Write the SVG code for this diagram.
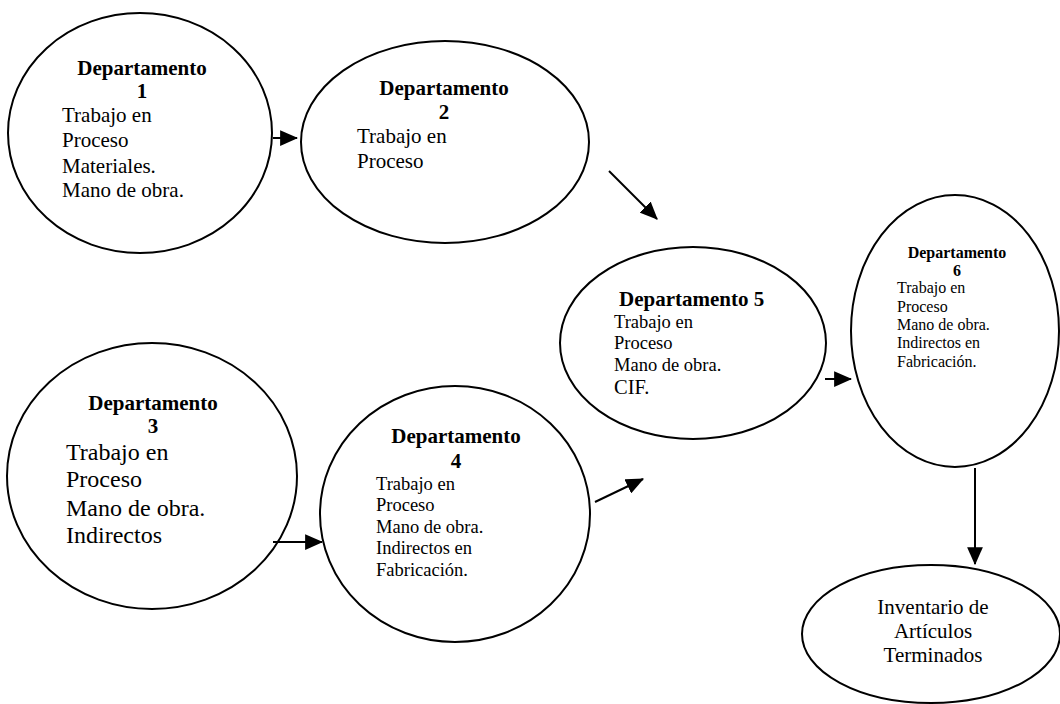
<svg xmlns="http://www.w3.org/2000/svg" width="1060" height="704" viewBox="0 0 1060 704">
<style>
.node{fill:#fff;stroke:#000;stroke-width:2}
.t{font-family:"Liberation Serif","Times New Roman",serif;fill:#000}
.b{font-weight:bold}
.c{text-anchor:middle}
.conn{stroke:#000;stroke-width:2;fill:none;marker-end:url(#ah)}
</style>
<defs>
<marker id="ah" markerUnits="userSpaceOnUse" markerWidth="18" markerHeight="16" viewBox="0 0 16 14" refX="15" refY="7" orient="auto">
<path d="M0,0 L16,7 L0,14 Z" fill="#000"/>
</marker>
</defs>
<rect width="1060" height="704" fill="#fff"/>
<g id="dept1">
<ellipse class="node" cx="140" cy="133" rx="132" ry="120"/>
<text class="t b c" x="142" y="75" font-size="21">Departamento</text>
<text class="t b c" x="142" y="98" font-size="21">1</text>
<text class="t" x="62" y="122" font-size="21">Trabajo en</text>
<text class="t" x="62" y="147" font-size="21">Proceso</text>
<text class="t" x="62" y="173" font-size="21">Materiales.</text>
<text class="t" x="62" y="197" font-size="21">Mano de obra.</text>
</g>
<g id="dept2">
<ellipse class="node" cx="445" cy="142" rx="144" ry="101"/>
<text class="t b c" x="444" y="95" font-size="21">Departamento</text>
<text class="t b c" x="444" y="119" font-size="21">2</text>
<text class="t" x="357" y="143" font-size="21">Trabajo en</text>
<text class="t" x="357" y="168" font-size="21">Proceso</text>
</g>
<g id="dept3">
<ellipse class="node" cx="152" cy="476" rx="145" ry="133"/>
<text class="t b c" x="153" y="410" font-size="21">Departamento</text>
<text class="t b c" x="153" y="433" font-size="21">3</text>
<text class="t" x="66" y="460" font-size="24">Trabajo en</text>
<text class="t" x="66" y="487" font-size="24">Proceso</text>
<text class="t" x="66" y="516" font-size="24">Mano de obra.</text>
<text class="t" x="66" y="543" font-size="24">Indirectos</text>
</g>
<g id="dept4">
<ellipse class="node" cx="455" cy="514" rx="135" ry="128"/>
<text class="t b c" x="456" y="443" font-size="21">Departamento</text>
<text class="t b c" x="456" y="468" font-size="21">4</text>
<text class="t" x="376" y="490" font-size="18.5">Trabajo en</text>
<text class="t" x="376" y="511" font-size="18.5">Proceso</text>
<text class="t" x="376" y="533" font-size="18.5">Mano de obra.</text>
<text class="t" x="376" y="554" font-size="18.5">Indirectos en</text>
<text class="t" x="376" y="576" font-size="18.5">Fabricación.</text>
</g>
<g id="dept5">
<ellipse class="node" cx="693" cy="343" rx="133" ry="96"/>
<text class="t b" x="619" y="306" font-size="21">Departamento 5</text>
<text class="t" x="614" y="328" font-size="18.5">Trabajo en</text>
<text class="t" x="614" y="349" font-size="18.5">Proceso</text>
<text class="t" x="614" y="371" font-size="18.5">Mano de obra.</text>
<text class="t" x="614" y="394" font-size="20.5">CIF.</text>
</g>
<g id="dept6">
<ellipse class="node" cx="955" cy="331" rx="104" ry="136"/>
<text class="t b c" x="957" y="258" font-size="16">Departamento</text>
<text class="t b c" x="957" y="276" font-size="16">6</text>
<text class="t" x="897" y="293" font-size="16">Trabajo en</text>
<text class="t" x="897" y="312" font-size="16">Proceso</text>
<text class="t" x="897" y="330" font-size="16">Mano de obra.</text>
<text class="t" x="897" y="348" font-size="16">Indirectos en</text>
<text class="t" x="897" y="367" font-size="16">Fabricación.</text>
</g>
<g id="inventario">
<ellipse class="node" cx="931" cy="634" rx="129" ry="69"/>
<text class="t c" x="933" y="614" font-size="21">Inventario de</text>
<text class="t c" x="933" y="638" font-size="21">Artículos</text>
<text class="t c" x="933" y="662" font-size="21">Terminados</text>
</g>
<g id="connectors">
<line class="conn" x1="273" y1="138" x2="297" y2="138"/>
<line class="conn" x1="609" y1="171" x2="657" y2="219"/>
<line class="conn" x1="273" y1="542" x2="322" y2="542"/>
<line class="conn" x1="595" y1="502" x2="643" y2="479"/>
<line class="conn" x1="825" y1="379" x2="851" y2="379"/>
<line class="conn" x1="975" y1="468" x2="975" y2="564"/>
</g>
</svg>
